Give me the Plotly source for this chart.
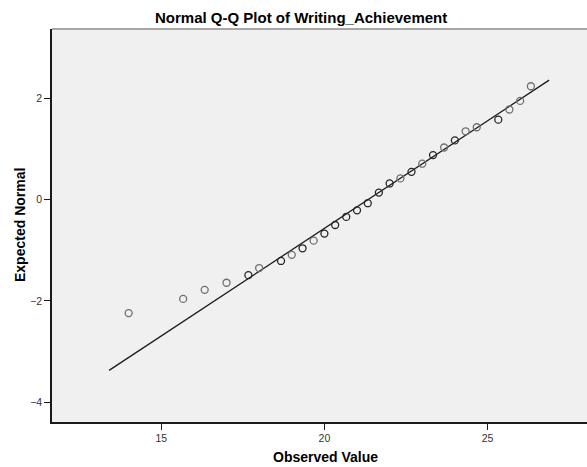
import plotly.graph_objects as go

observed = [14.0, 15.67, 16.33, 17.0, 17.67, 18.0, 18.67, 19.0, 19.33, 19.67,
            20.0, 20.33, 20.67, 21.0, 21.33, 21.67, 22.0, 22.33, 22.67, 23.0,
            23.33, 23.67, 24.0, 24.33, 24.67, 25.33, 25.67, 26.0, 26.33]
expected = [-2.24, -1.96, -1.78, -1.64, -1.49, -1.35, -1.21, -1.09, -0.96, -0.81,
            -0.67, -0.50, -0.34, -0.21, -0.07, 0.14, 0.32, 0.42, 0.55, 0.71,
            0.88, 1.03, 1.17, 1.35, 1.43, 1.58, 1.78, 1.95, 2.24]
# 2 = overlapping (tied) cases drawn darker
overlap = [1, 1, 1, 1, 2, 1, 2, 1, 2, 1,
           2, 2, 2, 2, 2, 2, 2, 1, 2, 1,
           2, 1, 2, 1, 1, 2, 1, 1, 1]

# Reference line endpoints
line_x = [13.40, 26.89]
line_y = [-3.37, 2.36]

x_ticks = [15, 20, 25]
y_ticks = [-4, -2, 0, 2]

title_text = "Normal Q-Q Plot of Writing_Achievement"
x_title = "Observed Value"
y_title = "Expected Normal"

FONT = "Liberation Sans, Arial, sans-serif"

colors = ["#262626" if o > 1 else "#6f6f6f" for o in overlap]

fig = go.Figure()
fig.add_trace(go.Scatter(
    x=line_x, y=line_y, mode="lines",
    line=dict(color="#1a1a1a", width=1.3),
    showlegend=False, hoverinfo="skip"))
fig.add_trace(go.Scatter(
    x=observed, y=expected, mode="markers",
    marker=dict(symbol="circle-open", size=7, color=colors,
                line=dict(width=1.3, color=colors)),
    showlegend=False))

fig.update_layout(
    width=587, height=467,
    margin=dict(l=52, r=0, t=29, b=45),
    paper_bgcolor="white",
    plot_bgcolor="#f0f0f0",
    font=dict(family=FONT, size=10, color="#333333"),
    xaxis=dict(range=[11.65, 28.05], tickvals=x_ticks, showgrid=False,
               zeroline=False, showline=True, linecolor="#1a1a1a", linewidth=1.5,
               ticks="outside", ticklen=6, tickcolor="#1a1a1a", tickwidth=1,
               tickfont=dict(size=10.5, color="#333333")),
    yaxis=dict(range=[-4.39, 3.37], tickvals=y_ticks, showgrid=False,
               zeroline=False, showline=True, linecolor="#1a1a1a", linewidth=1.5,
               ticks="outside", ticklen=6, tickcolor="#1a1a1a", tickwidth=1,
               tickfont=dict(size=10.5, color="#333333")),
    shapes=[dict(type="line", xref="paper", yref="paper", x0=0, x1=1, y0=1, y1=1,
                 line=dict(color="#8c8c8c", width=1.5))],
    annotations=[
        dict(text="<b>" + title_text + "</b>", xref="paper", yref="paper",
             x=(300.5 - 52) / 535, y=1, yshift=12, xanchor="center", yanchor="middle",
             showarrow=False, font=dict(family=FONT, size=15, color="#000000")),
        dict(text="<b>" + x_title + "</b>", xref="paper", yref="paper",
             x=(325 - 52) / 535, y=0, yshift=-35, xanchor="center", yanchor="middle",
             showarrow=False, font=dict(family=FONT, size=14, color="#000000")),
        dict(text="<b>" + y_title + "</b>", xref="paper", yref="paper",
             x=0, xshift=-32.5, y=0.5, xanchor="center", yanchor="middle", textangle=-90,
             showarrow=False, font=dict(family=FONT, size=14, color="#000000")),
    ],
)

fig.write_html("out.html",
               config={"displayModeBar": False},
               post_script="document.body.style.margin='0px';document.body.style.overflow='hidden';")
